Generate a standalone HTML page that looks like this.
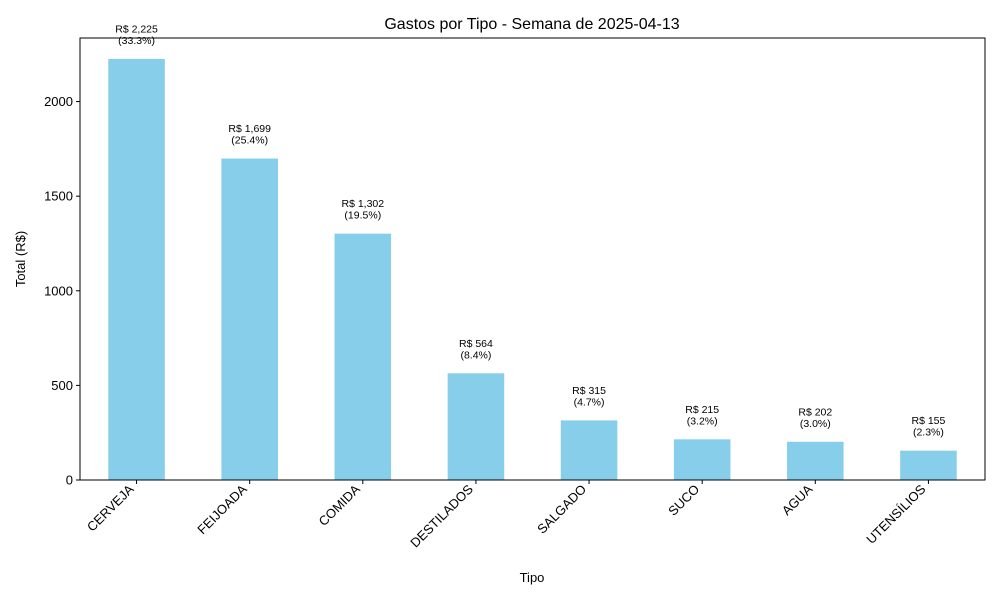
<!DOCTYPE html>
<html><head><meta charset="utf-8"><style>
body{margin:0;background:#fff;}
svg{font-family:"Liberation Sans","DejaVu Sans",sans-serif;}
</style></head><body>
<svg id="chart" width="1000" height="600" viewBox="0 0 1000 600">
<rect width="1000" height="600" fill="#fff"/>
<text x="532" y="29" font-size="16" text-anchor="middle">Gastos por Tipo - Semana de 2025-04-13</text>
<g id="bars"></g>
<g id="xticks"></g>
<g id="yticks"></g>
<rect x="80" y="38" width="905" height="442" fill="none" stroke="#000" stroke-width="1"/>
<text x="532" y="582" font-size="13" text-anchor="middle">Tipo</text>
<text transform="translate(25,259) rotate(-90)" font-size="13" text-anchor="middle">Total (R$)</text>
</svg>
<script>
const categories=["CERVEJA","FEIJOADA","COMIDA","DESTILADOS","SALGADO","SUCO","AGUA","UTENSÍLIOS"];
const values=[2225,1699,1302,564,315,215,202,155];
const valueLabels=["R$ 2,225","R$ 1,699","R$ 1,302","R$ 564","R$ 315","R$ 215","R$ 202","R$ 155"];
const pctLabels=["(33.3%)","(25.4%)","(19.5%)","(8.4%)","(4.7%)","(3.2%)","(3.0%)","(2.3%)"];
const yTicks=[0,500,1000,1500,2000];
const NS="http://www.w3.org/2000/svg";
const L=80,R=985,T=38,B=480,yMax=2336;
const step=(R-L)/categories.length;
const xS=i=>L+step*(i+0.5);
const yS=v=>B-(v/yMax)*(B-T);
function mk(tag,attrs,parent){const e=document.createElementNS(NS,tag);for(const k in attrs)e.setAttribute(k,attrs[k]);parent.appendChild(e);return e;}
const gb=document.getElementById('bars'),gx=document.getElementById('xticks'),gy=document.getElementById('yticks');
categories.forEach((c,i)=>{
  const w=step*0.5,x=xS(i)-w/2,y=yS(values[i]);
  const r=mk('rect',{x:x,y:y,width:w,height:B-y,fill:'#87ceeb'},gb);
  
  
  const ly=yS(values[i]+50);
  const t1=mk('text',{x:xS(i),y:ly-17,'font-size':'10.5','text-anchor':'middle'},gb);
  t1.textContent=valueLabels[i];
  
  
  const t2=mk('text',{x:xS(i),y:ly-5.5,'font-size':'10.5','text-anchor':'middle'},gb);
  t2.textContent=pctLabels[i];
  
  
  const tk=mk('line',{x1:xS(i),x2:xS(i),y1:B,y2:B+4,stroke:'#000'},gx);
  
  
  const tl=mk('text',{transform:`translate(${xS(i)-2},${B+10}) rotate(-45)`,'font-size':'13','text-anchor':'end'},gx);
  tl.textContent=c;
  
  
});
yTicks.forEach(v=>{
  const y=yS(v);
  const tk=mk('line',{x1:L-4,x2:L,y1:y,y2:y,stroke:'#000'},gy);
  
  
  const tl=mk('text',{x:L-7,y:y+4.5,'font-size':'13','text-anchor':'end'},gy);
  tl.textContent=v;
  
  
});
</script>
</body></html>
